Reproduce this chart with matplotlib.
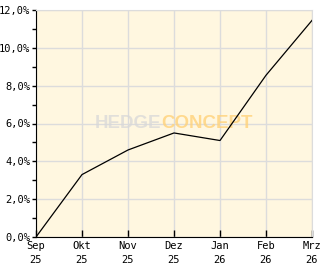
import matplotlib.pyplot as plt

# Monate und Werte (Performance in %)
monate = ["Sep\n25", "Okt\n25", "Nov\n25", "Dez\n25", "Jan\n26", "Feb\n26", "Mrz\n26"]
werte = [0.0, 3.3, 4.6, 5.5, 5.1, 8.55, 11.45]
y_ticks = [0, 2, 4, 6, 8, 10, 12]
y_labels = ["0,0%", "2,0%", "4,0%", "6,0%", "8,0%", "10,0%", "12,0%"]

fig = plt.figure(figsize=(3.32, 2.69), dpi=100)
ax = fig.add_axes([36 / 332, 32 / 269, 276 / 332, 227 / 269])
ax.set_facecolor("#fff7e0")

x = list(range(len(monate)))
ax.plot(x, werte, color="black", linewidth=0.9, zorder=3)

ax.set_xlim(0, len(monate) - 1)
ax.set_ylim(0, 12)
ax.set_xticks(x)
ax.set_xticklabels(monate, fontfamily="DejaVu Sans Mono", fontsize=7.5, linespacing=1.5)
ax.set_yticks(y_ticks)
ax.set_yticklabels(y_labels, fontfamily="DejaVu Sans Mono", fontsize=7.5)
ax.set_yticks([1, 3, 5, 7, 9, 11], minor=True)

ax.grid(True, color="#dcdcdc", linewidth=1)
ax.tick_params(axis="x", direction="in", length=5, width=1, pad=3, colors="black")
ax.tick_params(axis="y", which="both", direction="out", length=3, width=1, pad=1)

for s in ["top", "right"]:
    ax.spines[s].set_color("#dcdcdc")
for s in ["left", "bottom"]:
    ax.spines[s].set_color("black")

# Wasserzeichen
ax.text(0.455, 0.5, "HEDGE", transform=ax.transAxes, ha="right", va="center",
        fontsize=13.5, fontweight="bold", family="Liberation Sans", color="#d8d8d8",
        alpha=0.75, zorder=2)
ax.text(0.455, 0.5, "CONCEPT", transform=ax.transAxes, ha="left", va="center",
        fontsize=13.5, fontweight="bold", family="Liberation Sans", color="#ffd27a",
        alpha=0.8, zorder=2)

fig.savefig("out.png", dpi=100)
